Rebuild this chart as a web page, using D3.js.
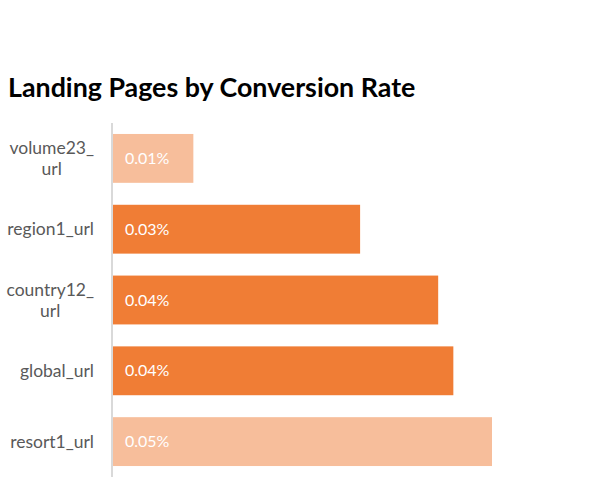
<!DOCTYPE html>
<html><head><meta charset="utf-8">
<script src="https://cdn.jsdelivr.net/npm/d3@7"></script>
<style>body{margin:0;background:#fff}svg{display:block}</style>
</head><body>
<svg id="c" width="599" height="501"></svg>
<script>
const categories = ["volume23_url","region1_url","country12_url","global_url","resort1_url"];
const labelLines = [["volume23_","url"],["region1_url"],["country12_","url"],["global_url"],["resort1_url"]];
const values = [0.0106,0.0326,0.0429,0.0449,0.0500];
const valueLabels = ["0.01%","0.03%","0.04%","0.04%","0.05%"];
const emphasis = [false,true,true,true,false];
const title = "Landing Pages by Conversion Rate";

const svg = d3.select("#c");
const font = "Lato, 'Open Sans', sans-serif";
const x = d3.scaleLinear().domain([0,0.05]).range([113,492]);
const y = d3.scaleBand().domain(categories).range([123,477]).paddingInner(0.31).paddingOuter(0.155);

svg.append("text").attr("x",8).attr("y",97).attr("font-family",font).attr("font-weight","bold")
  .attr("font-size",26.8).attr("fill","#000").text(title);

svg.selectAll("rect.bar").data(categories).join("rect").attr("class","bar")
  .attr("x",x(0)).attr("y",d=>y(d)).attr("height",y.bandwidth())
  .attr("width",(d,i)=>x(values[i])-x(0))
  .attr("fill",(d,i)=>emphasis[i]?"#F07D35":"#F7BE9B");

svg.append("line").attr("x1",112).attr("x2",112).attr("y1",123).attr("y2",477)
  .attr("stroke","#D9D9D9").attr("stroke-width",2);

svg.selectAll("text.val").data(categories).join("text").attr("class","val")
  .attr("x",x(0)+12).attr("y",d=>y(d)+y.bandwidth()/2).attr("dy","0.35em")
  .attr("font-family",font).attr("font-size",16).attr("fill","#fff")
  .text((d,i)=>valueLabels[i]);

const lh = 21;
categories.forEach((c,i)=>{
  const lines = labelLines[i];
  const cy = y(c)+y.bandwidth()/2;
  const g = svg.append("g");
  const ts = lines.map((l,k)=>g.append("text").attr("font-family",font).attr("font-size",17.5)
    .attr("fill","#595959").attr("text-anchor","middle")
    .attr("y",cy+(k-(lines.length-1)/2)*lh).attr("dy","0.35em").text(l));
  const w = d3.max(ts,t=>t.node().getComputedTextLength());
  ts.forEach(t=>t.attr("x",94-w/2));
});
</script>
</body></html>
